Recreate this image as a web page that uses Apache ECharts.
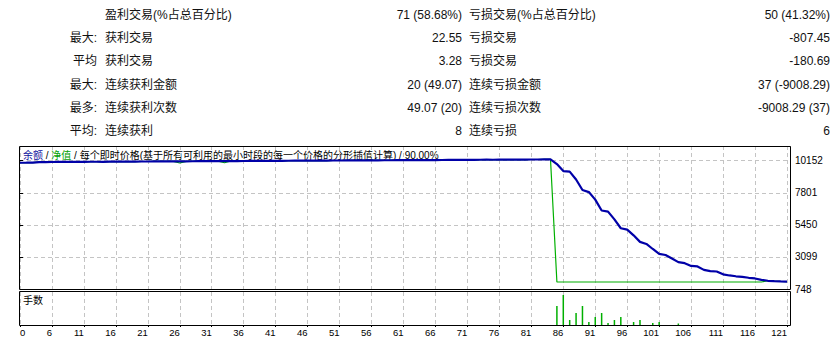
<!DOCTYPE html>
<html>
<head>
<meta charset="utf-8">
<title>余额 / 净值</title>
<script src="https://cdn.jsdelivr.net/npm/echarts@6/dist/echarts.min.js"></script>
<style>
html,body{margin:0;padding:0;background:#fff;}
#main{width:840px;height:342px;}
</style>
</head>
<body>
<div id="main"></div>
<script>
'use strict';
// 报告表格
var rowHeads=['','最大:','平均','最大:','最多:','平均:'];
var winNames=['盈利交易(%占总百分比)','获利交易','获利交易','连续获利金额','连续获利次数','连续获利'];
var winValues=['71 (58.68%)','22.55','3.28','20 (49.07)','49.07 (20)','8'];
var lossNames=['亏损交易(%占总百分比)','亏损交易','亏损交易','连续亏损金额','连续亏损次数','连续亏损'];
var lossValues=['50 (41.32%)','-807.45','-180.69','37 (-9008.29)','-9008.29 (37)','6'];

var chartTitle='{b|余额} / {g|净值} / 每个即时价格(基于所有可利用的最小时段的每一个价格的分形插值计算) / 90.00%';
var lotsTitle='手数';

// y轴刻度
var yTicks=[748,3099,5450,7801,10152];

// 余额 (每笔交易后)
var balance=[
	10000,10003,10007,10049,10052,10055,10058,10061,10063,10066,
	10069,10072,10074,10071,10075,10078,10081,10084,10087,10090,
	10092,10095,10098,10101,10099,10103,10106,10109,10112,10114,
	10117,10120,10123,10126,10124,10127,10130,10133,10136,10139,
	10141,10144,10147,10150,10148,10151,10154,10157,10160,10163,
	10165,10168,10171,10174,10172,10175,10178,10181,10184,10187,
	10189,10192,10195,10198,10196,10199,10202,10205,10208,10211,
	10213,10216,10219,10222,10220,10223,10226,10229,10232,10234,
	10236,10238,10240,10242,
	9900,9390,9348,8770,8000,7850,7300,6500,6420,5850,
	5200,5100,4680,4200,4050,3680,3320,3240,2980,2720,
	2640,2440,2400,2150,2060,2030,1820,1740,1680,1640,
	1570,1520,1420,1350,1320,1300,1290
];
// 净值
var equity=[
	10000,10003,10007,10049,10052,10055,10058,10061,10063,10066,
	10069,10072,10074,10071,10075,10078,10081,10084,10087,10090,
	10092,10095,10098,10101,10099,9980,10106,10109,10112,10114,
	10117,10120,10000,10126,10124,10127,10130,10133,10136,10139,
	10141,10144,10147,10150,10148,10151,10154,10157,10160,10163,
	10165,10168,10171,10174,10172,10175,10178,10181,10184,10187,
	10189,10192,10195,10198,10196,10199,10202,10205,10208,10211,
	10213,10216,10219,10222,10220,10223,10226,10229,10232,10234,
	10236,10238,10240,10242,
	1262,1262,1262,1262,1262,1262,1262,1262,1262,1262,
	1262,1262,1262,1262,1262,1262,1262,1262,1262,1262,
	1262,1262,1262,1262,1262,1262,1262,1262,1262,1262,
	1262,1262,1262,1350,1320,1300,1290
];
// 手数
var lotTrades=[84,85,86,87,88,89,90,91,92,93,94,96,97,99,100,103];
var lotSizes=[1.9,3.0,0.5,1.2,1.9,0.3,0.8,1.2,0.2,0.5,0.8,0.3,0.5,0.2,0.3,0.15];

var font='"Liberation Sans","Noto Sans CJK SC",sans-serif';
var gridColor='#c4c4c4';

function txt(x,y,s,align,size,color){
	return {
		type:'text',x:x,y:y,silent:true,
		style:{text:s,fill:color||'#111',textAlign:align,textVerticalAlign:'middle',fontSize:size,fontFamily:font}
	};
}

var graphics=[];
for(var i=0;i<rowHeads.length;i++){
	var y=15+i*23.2;
	graphics.push(txt(97,y,rowHeads[i],'right',12));
	graphics.push(txt(105,y,winNames[i],'left',12));
	graphics.push(txt(462,y,winValues[i],'right',12));
	graphics.push(txt(469,y,lossNames[i],'left',12));
	graphics.push(txt(830,y,lossValues[i],'right',12));
}
var head=txt(23,155,chartTitle,'left',10,'#000');
head.style.rich={b:{fill:'#1010a0'},g:{fill:'#00a000'}};
graphics.push(head);
graphics.push(txt(23,300.5,lotsTitle,'left',10,'#000'));
// 边框
graphics.push({type:'rect',z:100,silent:true,shape:{x:19.5,y:146.5,width:771,height:143},style:{fill:'none',stroke:'#000',lineWidth:1}});
graphics.push({type:'rect',z:100,silent:true,shape:{x:19.5,y:291.5,width:771,height:34},style:{fill:'none',stroke:'#000',lineWidth:1}});

var balanceData=balance.map(function(v,i){return [i,v];});
var equityData=equity.map(function(v,i){return [i,v];});
var lotData=lotTrades.map(function(t,i){return [t,lotSizes[i]];});

var xBase={
	type:'value',min:0,max:120.47,interval:5,
	axisLine:{show:false},
	splitLine:{show:true,lineStyle:{color:gridColor,type:[4,3],width:1}}
};

var option={
	animation:false,
	backgroundColor:'#fff',
	grid:[
		{left:20,top:146,width:770,height:143,outerBoundsMode:'none'},
		{left:20,top:292,width:770,height:33,outerBoundsMode:'none'}
	],
	xAxis:[
		Object.assign({},xBase,{gridIndex:0,axisTick:{show:false},axisLabel:{show:false}}),
		Object.assign({},xBase,{
			gridIndex:1,
			axisTick:{show:true,length:2,lineStyle:{color:'#000'}},
			axisLabel:{
				show:true,margin:3,fontSize:9.5,fontFamily:font,color:'#000',
				align:'right',alignMinLabel:'left',showMaxLabel:false,
				formatter:function(v){return v===0?'0':String(v+1);}
			}
		})
	],
	yAxis:[
		{
			gridIndex:0,type:'value',position:'right',min:748,max:11227,
			axisLine:{show:false},
			axisTick:{show:true,length:3,customValues:yTicks,lineStyle:{color:'#000'}},
			axisLabel:{
				customValues:yTicks,margin:5,fontSize:10,fontFamily:font,color:'#000',
				formatter:function(v){return String(v);}
			},
			splitLine:{show:true,lineStyle:{color:gridColor,type:[4,3],width:1}}
		},
		{
			gridIndex:1,type:'value',position:'right',min:0,max:3.3,
			axisLine:{show:false},axisTick:{show:false},axisLabel:{show:false},splitLine:{show:false}
		}
	],
	series:[
		{
			name:'净值',type:'line',xAxisIndex:0,yAxisIndex:0,data:equityData,
			showSymbol:false,symbol:'none',lineStyle:{color:'#00b000',width:1.2},z:2
		},
		{
			name:'余额',type:'line',xAxisIndex:0,yAxisIndex:0,data:balanceData,
			showSymbol:false,symbol:'none',lineStyle:{color:'#0000a8',width:2.2},z:3
		},
		{
			name:'手数',type:'bar',xAxisIndex:1,yAxisIndex:1,data:lotData,
			barWidth:1.5,itemStyle:{color:'#00b000'}
		}
	],
	graphic:graphics
};

var myChart=echarts.init(document.getElementById('main'),null,{renderer:'svg'});
myChart.setOption(option);
</script>
</body>
</html>
